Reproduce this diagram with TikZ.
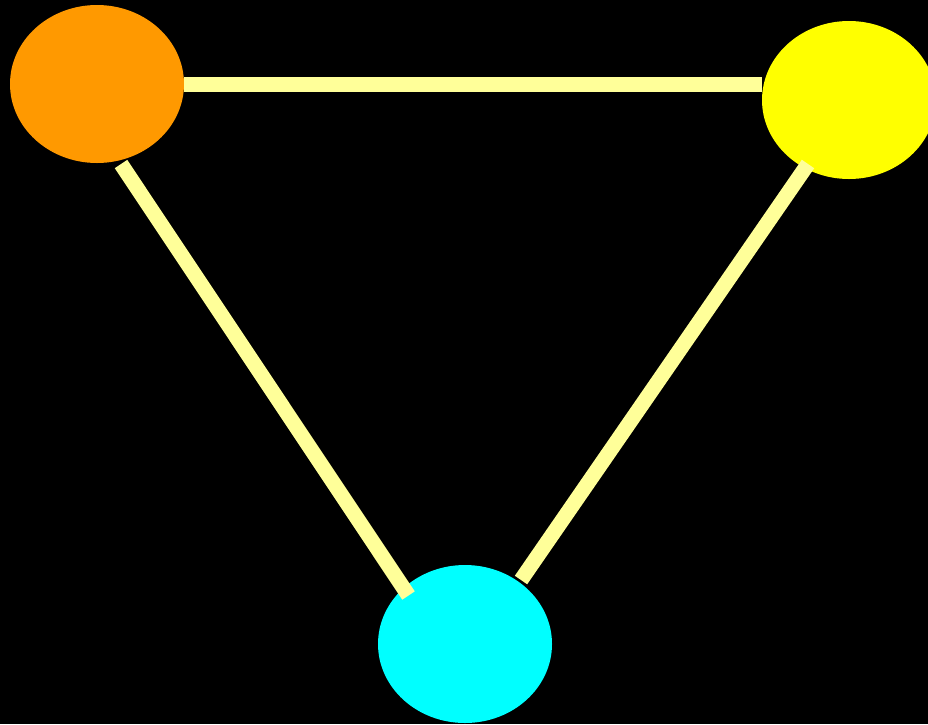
\documentclass[tikz,border=0pt]{standalone}
\usetikzlibrary{shapes.geometric,calc}
\definecolor{bgblack}{HTML}{000000}
\definecolor{dotorange}{HTML}{FF9900}
\definecolor{dotyellow}{HTML}{FFFF00}
\definecolor{dotcyan}{HTML}{00FFFF}
\definecolor{linkyellow}{HTML}{FFFF99}
\tikzset{
  dot/.style={ellipse, minimum width=174pt, minimum height=158pt, inner sep=0pt, draw=none},
  link/.style={draw=linkyellow, line width=15pt, line cap=butt}
}
\begin{document}
\begin{tikzpicture}[x=1pt,y=-1pt]
\fill[bgblack] (0,0) rectangle (928,724);
\useasboundingbox (0,0) rectangle (928,724);
\node[dot, fill=dotorange] (o) at (97,84) {};
\node[dot, fill=dotyellow] (y) at (849,100) {};
\node[dot, fill=dotcyan] (c) at (465,644) {};
\coordinate (o1) at ($(o)+(24,80)$);
\coordinate (c1) at ($(c)+(-56.5,-48.5)$);
\coordinate (y1) at ($(y)+(-41,64)$);
\coordinate (c2) at ($(c)+(56,-64)$);
\draw[link] (o.east) -- (o.east -| y.west);
\draw[link] (o1) -- (c1);
\draw[link] (y1) -- (c2);
\end{tikzpicture}
\end{document}
